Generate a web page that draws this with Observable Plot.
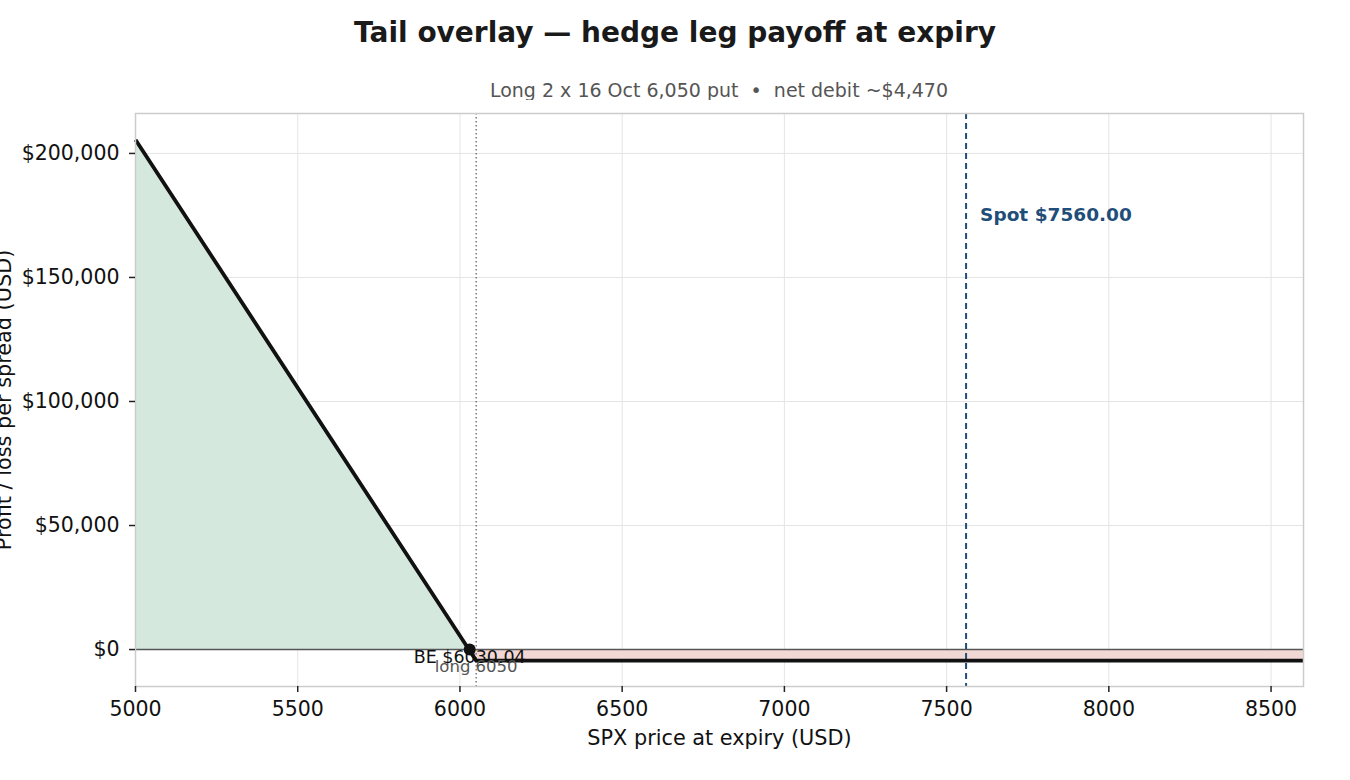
<!DOCTYPE html>
<html><head><meta charset="utf-8">
<script src="https://cdn.jsdelivr.net/npm/d3@7"></script>
<script src="https://cdn.jsdelivr.net/npm/@observablehq/plot@0.6"></script>
<style>
body{margin:0;background:#fff;font-family:"DejaVu Sans",sans-serif;}
#wrap{position:relative;width:1350px;height:780px;}
#title{position:absolute;left:0;width:1350px;top:16px;line-height:34px;text-align:center;font-weight:bold;font-size:28px;color:#1a1a1a;}
#sub{position:absolute;left:135px;width:1168px;top:79px;line-height:22px;text-align:center;font-size:19px;color:#555;}
#chart{position:absolute;left:0;top:100px;}
</style></head>
<body>
<div id="wrap">
<div id="title">Tail overlay — hedge leg payoff at expiry</div>
<div id="sub">Long 2 x 16 Oct 6,050 put &nbsp;•&nbsp; net debit ~$4,470</div>
<div id="chart"></div>
</div>
<script>
const priceGrid = [5000, 6027.65, 6050, 8600];
const pnl = [205530, 0, -4470, -4470];
const xTicks = [5000, 5500, 6000, 6500, 7000, 7500, 8000, 8500];
const yTicks = [0, 50000, 100000, 150000, 200000];
const strike = 6050;
const spot = 7560;
const breakEven = 6030.04;

const rows = priceGrid.map((p, i) => ({price: p, pnl: pnl[i]}));
const fmtUsd = d => "$" + d3.format(",")(d);

const chart = Plot.plot({
  width: 1350,
  height: 680,
  marginTop: 13,
  marginBottom: 94,
  marginLeft: 135,
  marginRight: 47,
  style: {fontFamily: "DejaVu Sans", fontSize: "20.5px", color: "#111", background: "#fff"},
  x: {domain: [5000, 8600]},
  y: {domain: [-14900, 216100]},
  marks: [
    Plot.gridX(xTicks, {stroke: "#e4e4e4", strokeOpacity: 1, strokeWidth: 1}),
    Plot.gridY(yTicks, {stroke: "#e4e4e4", strokeOpacity: 1, strokeWidth: 1}),
    Plot.areaY(rows, {x: "price", y1: 0, y2: d => Math.max(d.pnl, 0), fill: "#d5e8de", curve: "linear"}),
    Plot.areaY(rows, {x: "price", y1: 0, y2: d => Math.min(d.pnl, 0), fill: "#f2d8d4", curve: "linear"}),
    Plot.ruleY([0], {stroke: "#555", strokeWidth: 1.6}),
    Plot.ruleX([strike], {stroke: "#666", strokeWidth: 1.3, strokeDasharray: "1.5,2.5"}),
    Plot.ruleX([spot], {stroke: "#1f4e79", strokeWidth: 2, strokeDasharray: "6,4"}),
    Plot.line(rows, {x: "price", y: "pnl", stroke: "#111", strokeWidth: 3.8, strokeLinecap: "butt"}),
    Plot.dot([breakEven], {x: d => d, y: 0, r: 6, fill: "#111", stroke: "none"}),
    Plot.text([breakEven], {x: d => d, y: 0, text: d => "BE $" + d.toFixed(2), dy: 8, fontSize: 17.5, fill: "#111"}),
    Plot.text([strike], {x: d => d, y: 0, text: d => "long " + d, dy: 17, fontSize: 16.5, fill: "#555"}),
    Plot.text([spot], {x: d => d, y: 175000, text: d => "Spot $" + d.toFixed(2), dx: 14, textAnchor: "start", fontSize: 18.5, fontWeight: "bold", fill: "#1f4e79"}),
    Plot.frame({stroke: "#cccccc", strokeWidth: 1.5}),
    Plot.axisX(xTicks, {tickSize: 6, tickPadding: 9, label: null, tickFormat: d => String(d), stroke: "#222", strokeWidth: 1.5}),
    Plot.axisY(yTicks, {tickSize: 6, tickPadding: 10, label: null, tickFormat: fmtUsd, stroke: "#222", strokeWidth: 1.5}),
    Plot.text(["SPX price at expiry (USD)"], {frameAnchor: "bottom", dy: 58, fontSize: 20.8, fill: "#111"}),
    Plot.text(["Profit / loss per spread (USD)"], {frameAnchor: "left", textAnchor: "middle", dx: -131, rotate: -90, fontSize: 20.8, fill: "#111"})
  ]
});
document.getElementById("chart").appendChild(chart);
</script>
</body></html>
